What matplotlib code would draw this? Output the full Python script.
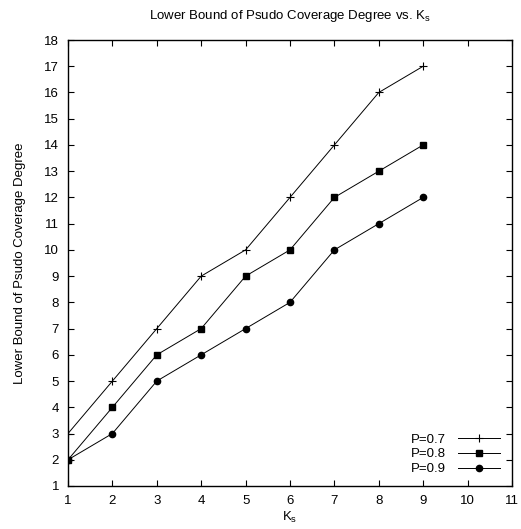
import matplotlib
matplotlib.use("Agg")
import matplotlib.pyplot as plt

ks = [1, 2, 3, 4, 5, 6, 7, 8, 9]
p07 = [3, 5, 7, 9, 10, 12, 14, 16, 17]
p08 = [2, 4, 6, 7, 9, 10, 12, 13, 14]
p09 = [2, 3, 5, 6, 7, 8, 10, 11, 12]
labels = ["P=0.7", "P=0.8", "P=0.9"]

plt.rcParams['font.family'] = ['Liberation Sans', 'DejaVu Sans']
plt.rcParams['font.size'] = 9.5

fig = plt.figure(figsize=(5.21, 5.29), dpi=100)
ax = fig.add_axes([68/521, 43/529, 444/521, 446/529])

ax.plot(ks, p07, color='black', lw=0.7, marker='+', ms=6, mew=0.8, label=labels[0])
ax.plot(ks, p08, color='black', lw=0.7, marker='s', ms=5, label=labels[1])
ax.plot(ks, p09, color='black', lw=0.7, marker='o', ms=4.5, label=labels[2])

ax.set_xlim(1, 11)
ax.set_ylim(1, 18)
ax.set_xticks(range(1, 12))
ax.set_yticks(range(1, 19))
ax.tick_params(direction='in', top=True, right=True, length=4, width=0.8, pad=6.5)
for s in ax.spines.values():
    s.set_linewidth(1.0)

ax.set_title("Lower Bound of Psudo Coverage Degree vs. K$_\\mathregular{s}$", fontsize=9.5, pad=15)
ax.set_xlabel("K$_\\mathregular{s}$", labelpad=2)
ax.set_ylabel("Lower Bound of Psudo Coverage Degree", labelpad=13)

ax.legend(loc='lower right', frameon=False, markerfirst=False, handlelength=3.2,
          labelspacing=0.2, borderaxespad=0.0, handletextpad=0.9,
          bbox_to_anchor=(0.985, 0.012))

fig.savefig("out.png", dpi=100)
